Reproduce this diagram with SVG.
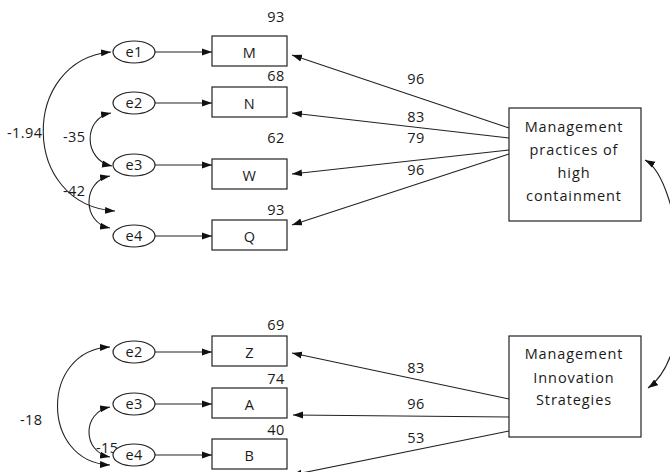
<svg xmlns="http://www.w3.org/2000/svg" width="670" height="472" viewBox="0 0 670 472">
<style>
text{font-family:"Open Sans","Noto Sans","Liberation Sans",sans-serif;font-size:14.5px;fill:#1a1a1a;letter-spacing:0.4px}
.m{text-anchor:middle}
.big{letter-spacing:0.9px}
.box{fill:#fff;stroke:#222;stroke-width:1.2}
.ell{fill:#fff;stroke:#222;stroke-width:1.2}
.ln{fill:none;stroke:#222;stroke-width:1.1}
</style>
<defs>
<marker id="ah" markerUnits="userSpaceOnUse" markerWidth="10" markerHeight="8" refX="10" refY="3.5" orient="auto-start-reverse" viewBox="0 0 10 7">
<path d="M0,0 L10,3.5 L0,7 z" fill="#111"/>
</marker>
</defs>
<rect width="670" height="472" fill="#fff"/>
<g id="connectors">
<path class="ln" d="M155,52 L212,52" marker-end="url(#ah)"/>
<path class="ln" d="M155,103 L212,103" marker-end="url(#ah)"/>
<path class="ln" d="M155,165 L212,165" marker-end="url(#ah)"/>
<path class="ln" d="M155,236 L212,236" marker-end="url(#ah)"/>
<path class="ln" d="M155,352 L212,352" marker-end="url(#ah)"/>
<path class="ln" d="M155,404 L212,404" marker-end="url(#ah)"/>
<path class="ln" d="M155,455 L212,455" marker-end="url(#ah)"/>
<path class="ln" d="M509,128 L292,55" marker-end="url(#ah)"/>
<path class="ln" d="M509,138 L292,113" marker-end="url(#ah)"/>
<path class="ln" d="M509,150 L292,174" marker-end="url(#ah)"/>
<path class="ln" d="M509,154 L292,225" marker-end="url(#ah)"/>
<path class="ln" d="M509,399 L292,353" marker-end="url(#ah)"/>
<path class="ln" d="M509,417 L293,415" marker-end="url(#ah)"/>
<path class="ln" d="M509,431 L292,475" marker-end="url(#ah)"/>
<path class="ln" d="M111,52 C20,60 20,205 115,211" marker-start="url(#ah)" marker-end="url(#ah)"/>
<path class="ln" d="M111,113 C83,118 83,160 112,166" marker-start="url(#ah)" marker-end="url(#ah)"/>
<path class="ln" d="M110,176 C82,181 82,223 110,228" marker-start="url(#ah)" marker-end="url(#ah)"/>
<path class="ln" d="M110,347 C40,350 40,462 110,465" marker-start="url(#ah)" marker-end="url(#ah)"/>
<path class="ln" d="M110,407 C82,412 82,452 110,457" marker-start="url(#ah)" marker-end="url(#ah)"/>
<path class="ln" d="M645,160 C682,180 702,350 648,388" marker-start="url(#ah)" marker-end="url(#ah)"/>
</g>
<g id="labels">
<text x="7" y="138">-1.94</text>
<text x="63" y="142">-35</text>
<text x="63" y="196">-42</text>
<text x="20" y="425">-18</text>
<text x="96" y="453">-15</text>
<text class="m" x="416" y="84">96</text>
<text class="m" x="416" y="122">83</text>
<text class="m" x="416" y="143">79</text>
<text class="m" x="416" y="175">96</text>
<text class="m" x="416" y="373">83</text>
<text class="m" x="416" y="409">96</text>
<text class="m" x="416" y="443">53</text>
<text class="m" x="276" y="22">93</text>
<text class="m" x="276" y="81">68</text>
<text class="m" x="276" y="143">62</text>
<text class="m" x="276" y="215">93</text>
<text class="m" x="276" y="330">69</text>
<text class="m" x="276" y="384">74</text>
<text class="m" x="276" y="435">40</text>
</g>
<g id="e1a"><ellipse class="ell" cx="134" cy="52" rx="21" ry="11"/><text class="m" x="134" y="57">e1</text></g>
<g id="e2a"><ellipse class="ell" cx="134" cy="103" rx="21" ry="11"/><text class="m" x="134" y="108">e2</text></g>
<g id="e3a"><ellipse class="ell" cx="134" cy="165" rx="21" ry="11"/><text class="m" x="134" y="170">e3</text></g>
<g id="e4a"><ellipse class="ell" cx="134" cy="236" rx="21" ry="11"/><text class="m" x="134" y="241">e4</text></g>
<g id="e2b"><ellipse class="ell" cx="134" cy="352" rx="21" ry="11"/><text class="m" x="134" y="357">e2</text></g>
<g id="e3b"><ellipse class="ell" cx="134" cy="404" rx="21" ry="11"/><text class="m" x="134" y="409">e3</text></g>
<g id="e4b"><ellipse class="ell" cx="134" cy="455" rx="21" ry="11"/><text class="m" x="134" y="460">e4</text></g>
<g id="M"><rect class="box" x="212" y="36" width="75" height="30"/><text class="m" x="249.5" y="58">M</text></g>
<g id="N"><rect class="box" x="212" y="87" width="75" height="30"/><text class="m" x="249.5" y="109">N</text></g>
<g id="W"><rect class="box" x="212" y="159" width="75" height="30"/><text class="m" x="249.5" y="181">W</text></g>
<g id="Q"><rect class="box" x="212" y="220" width="75" height="30"/><text class="m" x="249.5" y="242">Q</text></g>
<g id="Z"><rect class="box" x="212" y="336" width="75" height="30"/><text class="m" x="249.5" y="358">Z</text></g>
<g id="A"><rect class="box" x="212" y="388" width="75" height="30"/><text class="m" x="249.5" y="410">A</text></g>
<g id="B"><rect class="box" x="212" y="439" width="75" height="30"/><text class="m" x="249.5" y="461">B</text></g>
<g id="MPHC"><rect class="box" x="509" y="108" width="132" height="113"/>
<text class="m big" x="574" y="132">Management</text>
<text class="m big" x="574" y="155">practices of</text>
<text class="m big" x="574" y="178">high</text>
<text class="m big" x="574" y="201">containment</text></g>
<g id="MIS"><rect class="box" x="509" y="336" width="132" height="101"/>
<text class="m big" x="574" y="359">Management</text>
<text class="m big" x="574" y="383">Innovation</text>
<text class="m big" x="574" y="405">Strategies</text></g>
</svg>
